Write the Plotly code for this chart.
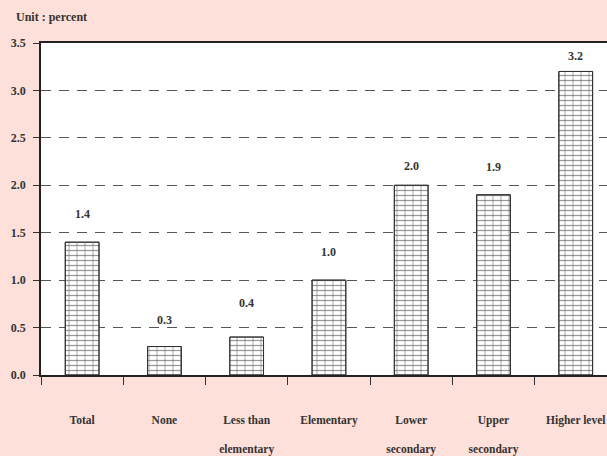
import plotly.graph_objects as go

categories = ["Total", "None", "Less than<br><br>elementary", "Elementary",
              "Lower<br><br>secondary", "Upper<br><br>secondary", "Higher level"]
values = [1.4, 0.3, 0.4, 1.0, 2.0, 1.9, 3.2]
value_labels = ["1.4", "0.3", "0.4", "1.0", "2.0", "1.9", "3.2"]
label_offsets = [28, 27, 34, 28, 19, 28, 15]
y_ticks = [0.0, 0.5, 1.0, 1.5, 2.0, 2.5, 3.0, 3.5]
y_tick_labels = ["0.0", "0.5", "1.0", "1.5", "2.0", "2.5", "3.0", "3.5"]

FONT = "Liberation Serif"
TXT = "#333333"

fig = go.Figure()
# horizontal mortar lines
fig.add_trace(go.Bar(
    x=categories, y=values,
    marker=dict(color="white",
                line=dict(color="#333333", width=1),
                pattern=dict(shape="-", fgcolor="#333333", bgcolor="white",
                             size=5, solidity=0.25)),
    hoverinfo="skip",
))
# vertical brick joints
fig.add_trace(go.Bar(
    x=categories, y=values,
    marker=dict(color="rgba(0,0,0,0)",
                line=dict(color="#333333", width=1),
                pattern=dict(shape="|", fgcolor="#666666", bgcolor="rgba(0,0,0,0)",
                             size=8, solidity=0.14)),
    hoverinfo="skip",
))

for c, v, t, off in zip(categories, values, value_labels, label_offsets):
    fig.add_annotation(x=c, y=v, text="<b>%s</b>" % t, showarrow=False,
                       yshift=off, font=dict(family=FONT, size=12, color=TXT))

fig.add_annotation(xref="paper", yref="paper", x=-0.048, y=1.0, yshift=26,
                   xanchor="left", yanchor="middle", showarrow=False,
                   text="<b>Unit : percent</b>",
                   font=dict(family=FONT, size=12, color=TXT))

fig.update_layout(
    width=607, height=456,
    margin=dict(l=41, r=0, t=43, b=81),
    paper_bgcolor="#fde0da",
    plot_bgcolor="white",
    barmode="overlay",
    bargap=0.59,
    showlegend=False,
    font=dict(family=FONT, size=12, color=TXT),
    xaxis=dict(
        type="category",
        range=[-0.5, 6.38],
        tickson="boundaries",
        ticks="outside", ticklen=8, tickcolor="#333333",
        showline=True, linecolor="#222222", linewidth=1.5, mirror=True,
        showgrid=False,
        tickfont=dict(family=FONT, size=11.5, color=TXT),
        ticklabelstandoff=33,
    ),
    yaxis=dict(
        range=[0, 3.5],
        tickvals=y_ticks, ticktext=["<b>%s</b>" % s for s in y_tick_labels],
        ticks="outside", ticklen=6, tickcolor="#333333",
        showline=True, linecolor="#222222", linewidth=1.5,
        showgrid=True, gridcolor="#555555", gridwidth=1, griddash="10px,8px",
        zeroline=False,
        tickfont=dict(family=FONT, size=12, color=TXT),
        ticklabelstandoff=5,
    ),
)
fig.update_xaxes(ticktext=["<b>%s</b>" % c for c in categories], tickvals=categories)

fig.write_html("out.html",
               config={"displayModeBar": False},
               post_script="document.body.style.margin='0';document.body.style.overflow='hidden';")
